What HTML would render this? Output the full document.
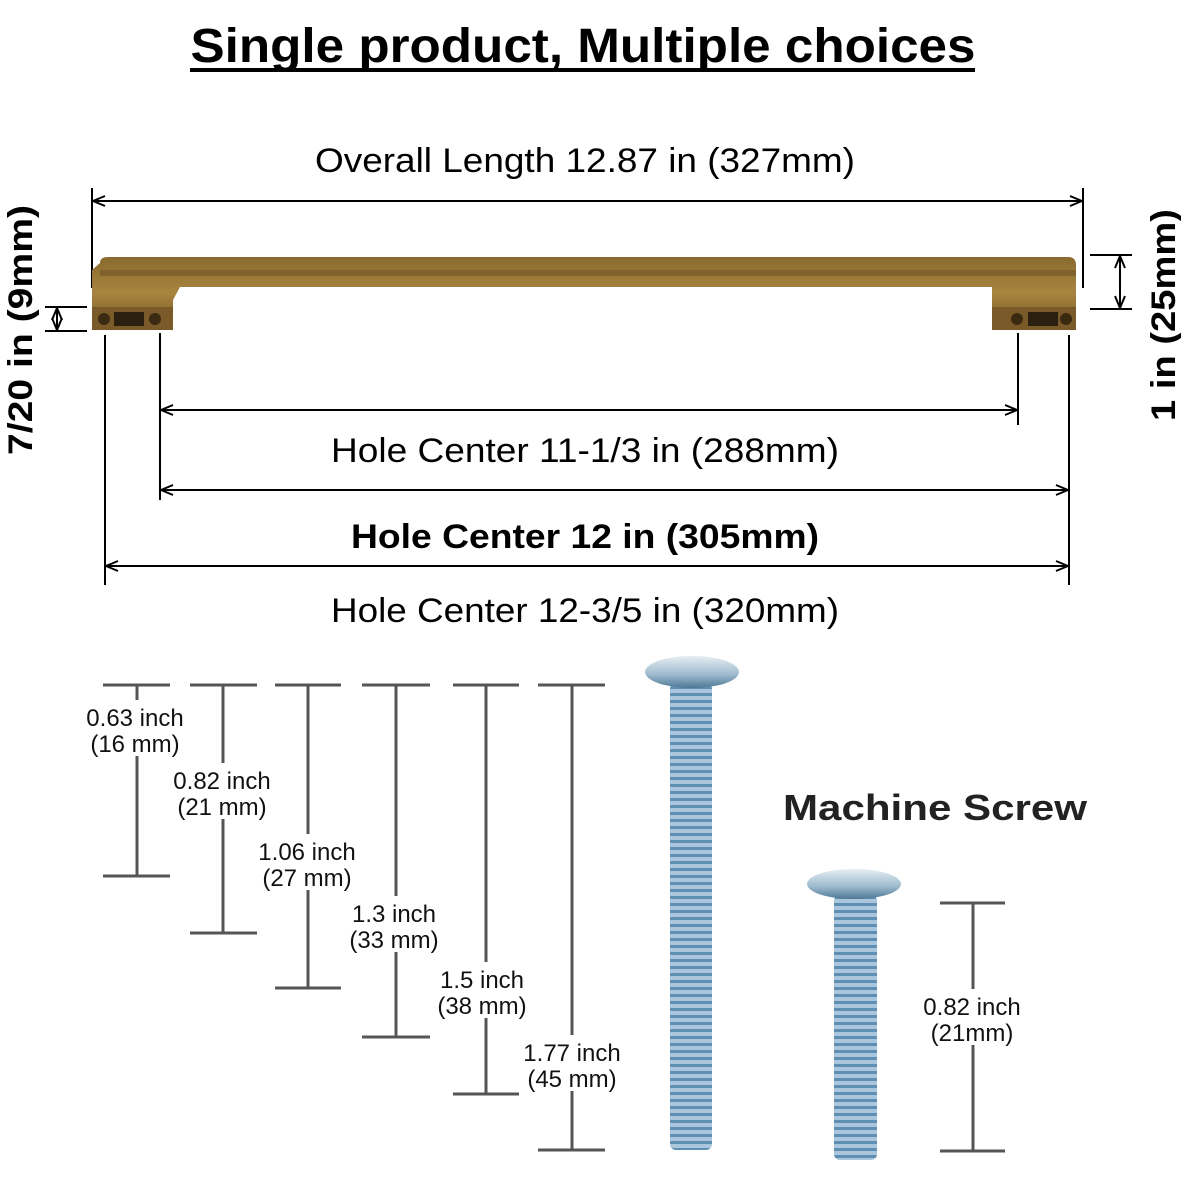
<!DOCTYPE html>
<html><head><style>body{margin:0;background:#fff}svg{display:block}</style></head><body>
<svg width="1181" height="1181" viewBox="0 0 1181 1181" xmlns="http://www.w3.org/2000/svg" font-family="Liberation Sans, sans-serif">
<defs>
<marker id="a" viewBox="0 0 14 12" refX="13" refY="6" markerWidth="14" markerHeight="12" markerUnits="userSpaceOnUse" orient="auto-start-reverse"><path d="M1,1 L13,6 L1,11" fill="none" stroke="#000" stroke-width="2"/></marker>
<pattern id="th" width="10" height="7" patternUnits="userSpaceOnUse"><rect width="10" height="7" fill="#a9c6dc"/><rect y="0" width="10" height="3" fill="#5f8fb3"/></pattern>
<linearGradient id="br" x1="0" y1="0" x2="0" y2="1"><stop offset="0" stop-color="#8a6a2e"/><stop offset=".5" stop-color="#a8853f"/><stop offset="1" stop-color="#6e5022"/></linearGradient>
<linearGradient id="hd" x1="0" y1="0" x2="0" y2="1"><stop offset="0" stop-color="#e6eef3"/><stop offset=".6" stop-color="#9bb8cc"/><stop offset="1" stop-color="#4e7896"/></linearGradient>
</defs>
<text x="583" y="62" font-size="48" font-weight="bold" text-anchor="middle" textLength="785" lengthAdjust="spacingAndGlyphs">Single product, Multiple choices</text>
<rect x="190" y="68" width="785" height="4" fill="#000"/>
<text x="585" y="172" font-size="34" text-anchor="middle" textLength="540" lengthAdjust="spacingAndGlyphs">Overall Length 12.87 in (327mm)</text>
<g stroke="#000" stroke-width="2">
<line x1="92" y1="188" x2="92" y2="288"/><line x1="1083" y1="188" x2="1083" y2="288"/>
<line x1="93" y1="201" x2="1082" y2="201" marker-start="url(#a)" marker-end="url(#a)"/>
<line x1="45" y1="307" x2="87" y2="307"/><line x1="45" y1="331" x2="87" y2="331"/>
<line x1="57" y1="308" x2="57" y2="330" marker-start="url(#a)" marker-end="url(#a)"/>
<line x1="1090" y1="255" x2="1132" y2="255"/><line x1="1090" y1="309" x2="1132" y2="309"/>
<line x1="1120" y1="256" x2="1120" y2="308" marker-start="url(#a)" marker-end="url(#a)"/>
<line x1="160" y1="333" x2="160" y2="500"/><line x1="1018" y1="333" x2="1018" y2="425"/>
<line x1="105" y1="335" x2="105" y2="585"/><line x1="1069" y1="335" x2="1069" y2="585"/>
<line x1="161" y1="410" x2="1017" y2="410" marker-start="url(#a)" marker-end="url(#a)"/>
<line x1="161" y1="490" x2="1068" y2="490" marker-start="url(#a)" marker-end="url(#a)"/>
<line x1="106" y1="566" x2="1068" y2="566" marker-start="url(#a)" marker-end="url(#a)"/>
</g>
<path d="M100,263 Q100,257 108,257 L1068,257 Q1076,257 1076,265 L1076,330 L992,330 L992,287 L180,287 L173,300 L173,330 L92,330 L92,270 Z" fill="url(#br)"/>
<rect x="100" y="270" width="976" height="6" fill="#5e4520" opacity=".4"/>
<rect x="92" y="307" width="81" height="23" fill="#7a5a28"/>
<rect x="992" y="307" width="84" height="23" fill="#7a5a28"/>
<circle cx="104" cy="319" r="6" fill="#3a2a12"/><rect x="114" y="312" width="30" height="14" fill="#2b1f10"/><circle cx="155" cy="319" r="6" fill="#3a2a12"/>
<circle cx="1017" cy="319" r="6" fill="#3a2a12"/><rect x="1028" y="312" width="30" height="14" fill="#2b1f10"/><circle cx="1066" cy="319" r="6" fill="#3a2a12"/>
<text transform="translate(32,330) rotate(-90)" font-size="34" font-weight="bold" text-anchor="middle" textLength="250" lengthAdjust="spacingAndGlyphs">7/20 in (9mm)</text>
<text transform="translate(1175,315) rotate(-90)" font-size="34" font-weight="bold" text-anchor="middle" textLength="212" lengthAdjust="spacingAndGlyphs">1 in (25mm)</text>
<text x="585" y="462" font-size="34" text-anchor="middle" textLength="508" lengthAdjust="spacingAndGlyphs">Hole Center 11-1/3 in (288mm)</text>
<text x="585" y="548" font-size="34" font-weight="bold" text-anchor="middle" textLength="468" lengthAdjust="spacingAndGlyphs">Hole Center 12 in (305mm)</text>
<text x="585" y="622" font-size="34" text-anchor="middle" textLength="508" lengthAdjust="spacingAndGlyphs">Hole Center 12-3/5 in (320mm)</text>
<g stroke="#555" stroke-width="3">
<line x1="103" y1="685" x2="170" y2="685"/><line x1="137" y1="685" x2="137" y2="876"/><line x1="103" y1="876" x2="170" y2="876"/>
<line x1="190" y1="685" x2="257" y2="685"/><line x1="223" y1="685" x2="223" y2="933"/><line x1="190" y1="933" x2="257" y2="933"/>
<line x1="275" y1="685" x2="341" y2="685"/><line x1="308" y1="685" x2="308" y2="988"/><line x1="275" y1="988" x2="341" y2="988"/>
<line x1="362" y1="685" x2="430" y2="685"/><line x1="396" y1="685" x2="396" y2="1037"/><line x1="362" y1="1037" x2="430" y2="1037"/>
<line x1="453" y1="685" x2="519" y2="685"/><line x1="486" y1="685" x2="486" y2="1094"/><line x1="453" y1="1094" x2="519" y2="1094"/>
<line x1="538" y1="685" x2="605" y2="685"/><line x1="572" y1="685" x2="572" y2="1150"/><line x1="538" y1="1150" x2="605" y2="1150"/>
<line x1="940" y1="903" x2="1005" y2="903"/><line x1="973" y1="903" x2="973" y2="1151"/><line x1="940" y1="1151" x2="1005" y2="1151"/>
</g>
<g font-size="24" text-anchor="middle" fill="#111">
<rect x="80" y="700" width="112" height="56" fill="#fff"/><text x="135" y="726">0.63 inch</text><text x="135" y="752">(16 mm)</text>
<rect x="165" y="763" width="116" height="56" fill="#fff"/><text x="222" y="789">0.82 inch</text><text x="222" y="815">(21 mm)</text>
<rect x="250" y="834" width="116" height="56" fill="#fff"/><text x="307" y="860">1.06 inch</text><text x="307" y="886">(27 mm)</text>
<rect x="345" y="896" width="100" height="56" fill="#fff"/><text x="394" y="922">1.3 inch</text><text x="394" y="948">(33 mm)</text>
<rect x="432" y="962" width="100" height="56" fill="#fff"/><text x="482" y="988">1.5 inch</text><text x="482" y="1014">(38 mm)</text>
<rect x="515" y="1035" width="116" height="56" fill="#fff"/><text x="572" y="1061">1.77 inch</text><text x="572" y="1087">(45 mm)</text>
<rect x="918" y="989" width="112" height="56" fill="#fff"/><text x="972" y="1015">0.82 inch</text><text x="972" y="1041">(21mm)</text>
</g>
<text x="935" y="820" font-size="36" font-weight="bold" fill="#222" text-anchor="middle" textLength="304" lengthAdjust="spacingAndGlyphs">Machine Screw</text>
<rect x="670" y="683" width="42" height="467" rx="6" fill="url(#th)"/>
<ellipse cx="692" cy="672" rx="47" ry="16" fill="url(#hd)"/>
<rect x="834" y="895" width="43" height="265" rx="6" fill="url(#th)"/>
<ellipse cx="854" cy="884" rx="47" ry="15" fill="url(#hd)"/>
</svg>
</body></html>
